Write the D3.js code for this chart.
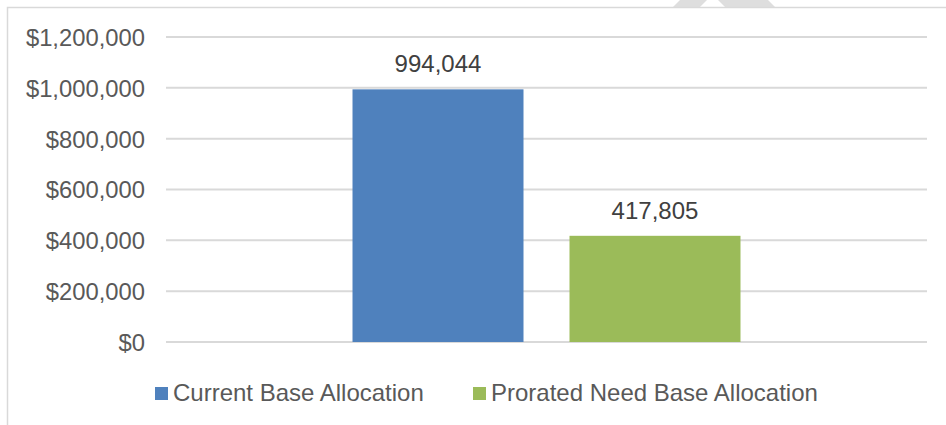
<!DOCTYPE html>
<html><head><meta charset="utf-8">
<script src="https://cdn.jsdelivr.net/npm/d3@7"></script>
<style>
html,body{margin:0;padding:0;background:#fff;}
svg{display:block;font-family:"Liberation Sans",Arial,sans-serif;}
</style></head>
<body>
<svg id="c" width="946" height="425"></svg>
<script>
const categories = ["Base Allocation"];
const seriesNames = ["Current Base Allocation", "Prorated Need Base Allocation"];
const seriesValues = [994044, 417805];
const seriesColors = ["#4F81BD", "#9BBB59"];
const yTicks = [0, 200000, 400000, 600000, 800000, 1000000, 1200000];

const svg = d3.select("#c");
const textColor = "#595959";

// frame + faint watermark fragment
svg.append("path").attr("d","M673,7 L680,0 L768,0 L775,7 Z").attr("fill","#dedede");
svg.append("path").attr("d","M700,7 L707,0 L718,0 L725,7 Z").attr("fill","#fff");
svg.append("path").attr("d","M7.5,430 L7.5,7.5 L950,7.5").attr("fill","none").attr("stroke","#d9d9d9").attr("stroke-width",1.5);

const y = d3.scaleLinear().domain([0,1200000]).range([342,37]);
const x = d3.scaleBand().domain(categories).range([166,927]).paddingInner(0).paddingOuter(0.4807);
const xs = d3.scaleBand().domain(seriesNames).range([0,x.bandwidth()]).paddingInner(0.212).paddingOuter(0);

// gridlines
svg.append("g").selectAll("line").data(yTicks).join("line")
  .attr("x1",166).attr("x2",927)
  .attr("y1",d=>y(d)).attr("y2",d=>y(d))
  .attr("stroke","#d9d9d9").attr("stroke-width",2);

// axis labels
const ax = svg.append("g").attr("transform","translate(145,0)")
  .call(d3.axisLeft(y).tickValues(yTicks).tickFormat(d3.format("$,")).tickSize(0).tickPadding(0));
ax.select(".domain").remove();
ax.selectAll("text").attr("font-size","23.8px").attr("fill",textColor)
  .attr("font-family","Liberation Sans, Arial, sans-serif").attr("dy","0.35em");

// bars
const data = seriesNames.map((s,i)=>({s, v:seriesValues[i], c:seriesColors[i], cat:categories[0]}));
const g = svg.append("g");
g.selectAll("rect").data(data).join("rect")
  .attr("x",d=>x(d.cat)+xs(d.s)).attr("width",xs.bandwidth())
  .attr("y",d=>y(d.v)).attr("height",d=>y(0)-y(d.v))
  .attr("fill",d=>d.c);
g.selectAll("text").data(data).join("text")
  .attr("x",d=>x(d.cat)+xs(d.s)+xs.bandwidth()/2)
  .attr("y",d=>y(d.v)-17)
  .attr("text-anchor","middle").attr("font-size","24px").attr("fill","#404040")
  .text(d=>d3.format(",")(d.v));

// legend
const legX = [155, 473];
const lg = svg.append("g");
data.forEach((d,i)=>{
  lg.append("rect").attr("x",legX[i]).attr("y",387).attr("width",13).attr("height",13).attr("fill",d.c);
  lg.append("text").attr("x",legX[i]+18).attr("y",401).attr("font-size","24px").attr("fill",textColor).text(d.s);
});
</script>
</body></html>
